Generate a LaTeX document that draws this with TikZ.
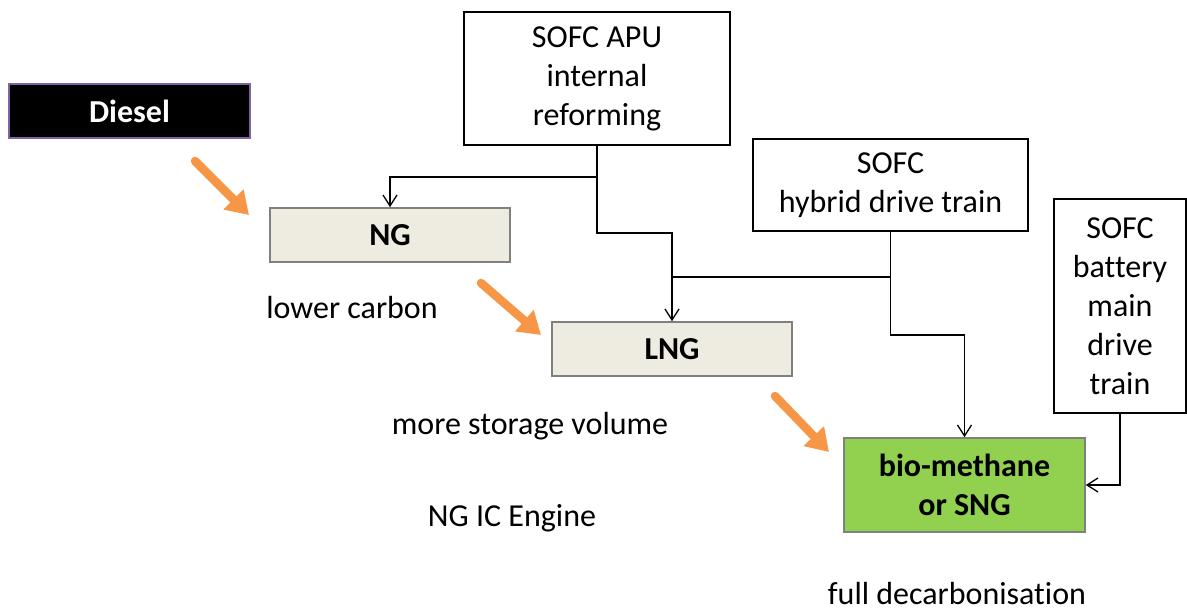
\documentclass[tikz,border=0pt]{standalone}
\usepackage{fontspec}
\setmainfont{Carlito}[Ligatures=NoCommon]
\usepackage{xcolor}
\usetikzlibrary{positioning,calc,arrows.meta}

\definecolor{ngfill}{HTML}{EEECE1}
\definecolor{biofill}{HTML}{92D050}
\definecolor{pushorange}{HTML}{F79646}
\definecolor{dieselline}{HTML}{8064A2}

\begin{document}
\begin{tikzpicture}[x=1pt, y=-1pt,
    every node/.style={font=\fontsize{32}{39}\selectfont, align=center, inner sep=0pt},
    sofcbox/.style={draw=black, line width=1.4pt, fill=white},
    fuelbox/.style={draw=black!50, line width=1.6pt, font=\fontsize{32}{39}\selectfont\bfseries},
    link/.style={line width=1.3pt},
    feed/.style={link, -{Straight Barb[length=11pt, width=14pt, line width=1.3pt]}},
    push/.style={pushorange, line width=8.5pt, line cap=round, -{Triangle[length=22pt, width=27pt]}}]
    \useasboundingbox (0,0) rectangle (1187,612);

    % fuels
    \node [fuelbox, draw=dieselline, fill=black, text=white, minimum width=241pt, minimum height=54pt] (diesel) at (129.5,111) {Diesel};
    \node [fuelbox, fill=ngfill, minimum width=240pt, minimum height=54pt] (ng) at (390,235) {NG};
    \node [fuelbox, fill=ngfill, minimum width=240pt, minimum height=54pt] (lng) at (672,349) {LNG};
    \node [fuelbox, fill=biofill, minimum width=241pt, minimum height=94pt] (bio) at (964.5,485) {bio-methane\\or SNG};

    % SOFC options
    \node [sofcbox, minimum width=266pt, minimum height=133pt] (apu) at (597,78.5) {SOFC APU\\internal\\reforming};
    \node [sofcbox, minimum width=275pt, minimum height=92pt] (hybrid) at (890.5,185) {SOFC\\hybrid drive train};
    \node [sofcbox, minimum width=132pt, minimum height=214pt] (battery) at (1120,306) {SOFC\\battery\\main\\drive\\train};

    % notes
    \node (lowc) at (352,308) {lower carbon};
    \node (storage) at (530,426) {more storage volume};
    \node (icengine) at (512,518) {NG IC Engine};
    \node (decarb) at (957,594) {full decarbonisation};

    % junctions
    \coordinate (apusplit) at (597,177);
    \coordinate (apudown) at (597,233);
    \coordinate (lngjoin) at (672,277);
    \coordinate (hybsplit) at (890.5,277);
    \coordinate (hybdown) at (890.5,335);

    \draw [feed] (apu.south) -- (apusplit) -| (ng.north);
    \draw [feed] (apusplit) -- (apudown) -| (lng.north);
    \draw [link] (hybrid.south) |- (lngjoin);
    \draw [feed] (hybsplit) -- (hybdown) -| (bio.north);
    \draw [feed] (battery.south) |- (bio.east);

    % orange steps
    \coordinate (p1a) at (195,161);
    \coordinate (p1b) at (249,215);
    \coordinate (p2a) at (481,283);
    \coordinate (p2b) at (541,335);
    \coordinate (p3a) at (775,396);
    \coordinate (p3b) at (829,452);
    \draw [push] (p1a) -- (p1b);
    \draw [push] (p2a) -- (p2b);
    \draw [push] (p3a) -- (p3b);
\end{tikzpicture}
\end{document}
